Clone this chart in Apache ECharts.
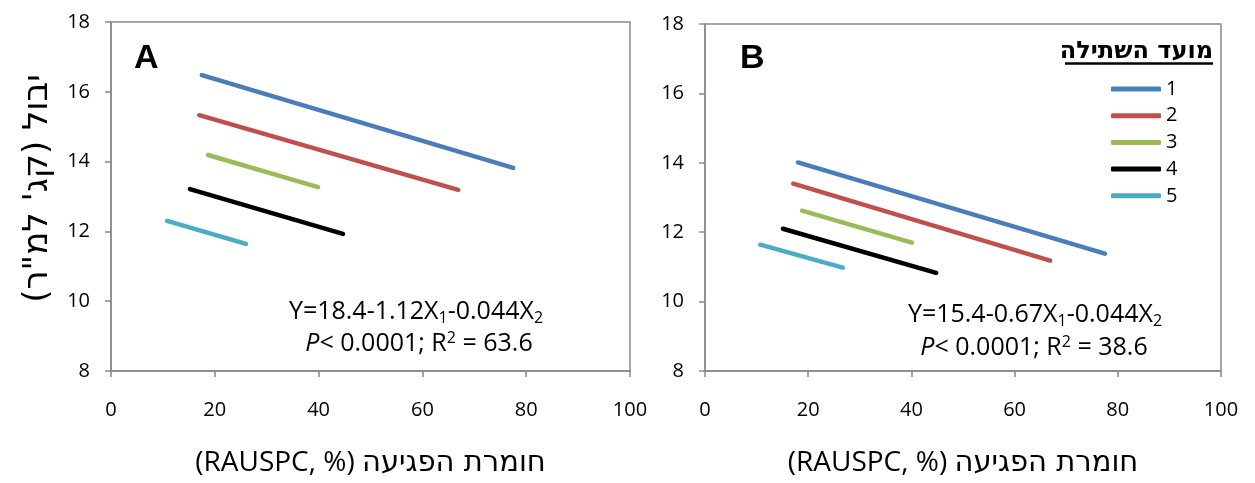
<!DOCTYPE html>
<html>
<head>
<meta charset="utf-8">
<script src="https://cdn.jsdelivr.net/npm/echarts@6/dist/echarts.min.js"></script>
<style>html,body{margin:0;padding:0;background:#fff;}#c{width:1255px;height:483px;}</style>
</head>
<body>
<div id="c"></div>
<script>
// Planting dates (legend)
const plantingDates = ['1', '2', '3', '4', '5'];
const seriesColors = ['#4A7EBB', '#C0504D', '#9BBB59', '#000000', '#4BACC6'];
// Panel A: start/end of each regression line (x = RAUSPC %, y = yield)
const aX = [[17.5, 77.5], [17.0, 66.9], [18.7, 39.9], [15.2, 44.7], [10.8, 26.0]];
const aY = [[16.48, 13.82], [15.33, 13.19], [14.19, 13.27], [13.21, 11.93], [12.30, 11.64]];
// Panel B
const bX = [[18.0, 77.5], [17.1, 66.9], [18.8, 40.1], [15.1, 44.8], [10.7, 26.7]];
const bY = [[14.01, 11.38], [13.40, 11.18], [12.62, 11.70], [12.10, 10.83], [11.64, 10.98]];
// Axis ticks
const xTicks = [0, 20, 40, 60, 80, 100];
const yTicks = [8, 10, 12, 14, 16, 18];

const FONT = "'Open Sans', 'Liberation Sans', 'DejaVu Sans', sans-serif";
const HEB = "'DejaVu Sans', 'Liberation Sans', sans-serif";
const axisColor = '#898989';
const xTitleLatin = '(RAUSPC, %) ';
const xTitleHeb = 'חומרת הפגיעה';
const yTitle = '\u202Bיבול (קג\' למ"ר)\u202C';

function xAxisCfg(gi) {
  return {
    type: 'value', gridIndex: gi, min: xTicks[0], max: xTicks[xTicks.length - 1],
    interval: xTicks[1] - xTicks[0],
    name: '{l|' + xTitleLatin + '}{h|' + xTitleHeb + '}', nameLocation: 'middle', nameGap: 78,
    nameTextStyle: {
      fontFamily: FONT, fontSize: 28, color: '#000',
      rich: {
        l: { fontFamily: FONT, fontSize: 28, color: '#000' },
        h: { fontFamily: HEB, fontSize: 29, color: '#000' }
      }
    },
    axisLine: { show: true, lineStyle: { color: axisColor, width: 1.5 } },
    axisTick: { show: true, inside: false, length: 6, lineStyle: { color: axisColor, width: 1.5 } },
    axisLabel: { fontFamily: FONT, fontSize: 20, color: '#000', margin: 29 },
    splitLine: { show: false }
  };
}
function yAxisCfg(gi, withName) {
  return {
    type: 'value', gridIndex: gi, min: yTicks[0], max: yTicks[yTicks.length - 1],
    interval: yTicks[1] - yTicks[0],
    name: withName ? yTitle : '', nameLocation: 'middle', nameGap: 56, nameRotate: 90,
    nameTextStyle: { fontFamily: HEB, fontSize: 34, color: '#000', padding: [0, 0, 0, 16] },
    axisLine: { show: true, lineStyle: { color: axisColor, width: 1.5 } },
    axisTick: { show: true, inside: false, length: 6, lineStyle: { color: axisColor, width: 1.5 } },
    axisLabel: { fontFamily: FONT, fontSize: 20, color: '#000', margin: 21 },
    splitLine: { show: false }
  };
}

const series = [];
[[aX, aY, 0], [bX, bY, 1]].forEach(([xs, ys, gi]) => {
  plantingDates.forEach((name, i) => {
    series.push({
      name: name, type: 'line', xAxisIndex: gi, yAxisIndex: gi,
      data: [[xs[i][0], ys[i][0]], [xs[i][1], ys[i][1]]],
      symbol: 'none', silent: true, animation: false,
      lineStyle: { color: seriesColors[i], width: 4.5, cap: 'round' },
      itemStyle: { color: seriesColors[i] }
    });
  });
});

const eqRich = {
  a: { fontFamily: FONT, fontSize: 25, color: '#000' },
  i: { fontFamily: FONT, fontSize: 25, fontStyle: 'italic', color: '#000' },
  sub: { fontFamily: FONT, fontSize: 16, color: '#000', verticalAlign: 'bottom', padding: [12, 0, 0, 0] },
  sup: { fontFamily: FONT, fontSize: 16, color: '#000', verticalAlign: 'top', padding: [0, 0, 12, 0] }
};

function eqText(x, y, str) {
  return { type: 'text', x: x, y: y, silent: true,
    style: { text: str, rich: eqRich, align: 'center', verticalAlign: 'middle', fill: '#000' } };
}

const chart = echarts.init(document.getElementById('c'), null, { renderer: 'canvas' });
chart.setOption({
  animation: false,
  backgroundColor: '#fff',
  grid: [
    { left: 111, top: 22, width: 519, height: 349, show: true, borderColor: axisColor, borderWidth: 1.5, containLabel: false },
    { left: 705, top: 24, width: 516, height: 347, show: true, borderColor: axisColor, borderWidth: 1.5, containLabel: false }
  ],
  xAxis: [xAxisCfg(0), xAxisCfg(1)],
  yAxis: [yAxisCfg(0, true), yAxisCfg(1, false)],
  legend: {
    data: plantingDates, orient: 'vertical', left: 1111, top: 78, padding: 0,
    icon: 'roundRect', itemWidth: 50, itemHeight: 5, itemGap: 4.7,
    textStyle: { fontFamily: FONT, fontSize: 20, color: '#000', lineHeight: 22 },
    selectedMode: false
  },
  series: series,
  graphic: [
    { type: 'text', x: 134, y: 59, silent: true,
      style: { text: 'A', font: "bold 34px 'Liberation Sans', Arial, sans-serif", fill: '#000', verticalAlign: 'middle' } },
    { type: 'text', x: 740, y: 59, silent: true,
      style: { text: 'B', font: "bold 34px 'Liberation Sans', Arial, sans-serif", fill: '#000', verticalAlign: 'middle' } },
    eqText(416, 312, '{a|Y=18.4-1.12X}{sub|1}{a|-0.044X}{sub|2}'),
    eqText(419, 344, '{i|P}{a|< 0.0001; R}{sup|2}{a| = 63.6}'),
    eqText(1035, 315, '{a|Y=15.4-0.67X}{sub|1}{a|-0.044X}{sub|2}'),
    eqText(1034, 348, '{i|P}{a|< 0.0001; R}{sup|2}{a| = 38.6}'),
    { type: 'text', x: 1213, y: 52, silent: true,
      style: { text: '\u202Bמועד השתילה\u202C', font: "bold 24px 'DejaVu Sans', 'Liberation Sans', sans-serif", fill: '#000', align: 'right', verticalAlign: 'middle' } },
    { type: 'line', silent: true, shape: { x1: 1065, y1: 63.5, x2: 1213, y2: 63.5 }, style: { stroke: '#000', lineWidth: 2.5 } }
  ]
});
</script>
</body>
</html>
